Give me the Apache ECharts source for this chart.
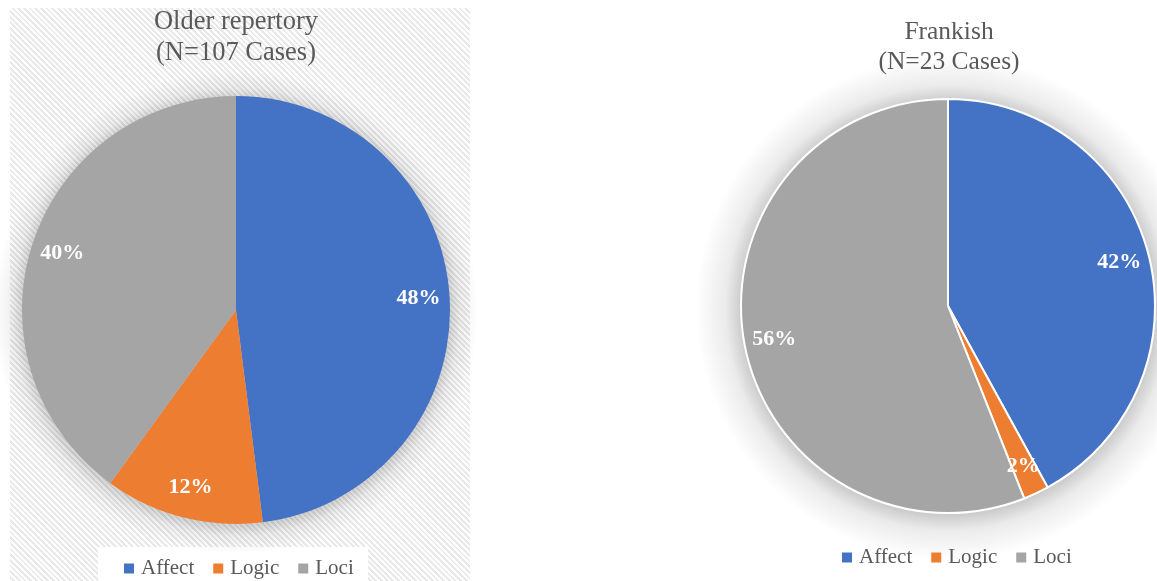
<!DOCTYPE html>
<html>
<head>
<meta charset="utf-8">
<script src="https://cdn.jsdelivr.net/npm/echarts@6/dist/echarts.min.js"></script>
<style>
  html, body { margin: 0; padding: 0; background: #fff; }
  #wrap { position: relative; width: 1157px; height: 581px; overflow: hidden; }
  #hatch { position: absolute; left: 10px; top: 8px; width: 460px; height: 573px;
    background: repeating-linear-gradient(45deg, #ffffff 0px, #ffffff 2px, #e9e9e9 2px, #e9e9e9 4px); }
  #legbox { position: absolute; left: 98px; top: 547px; width: 270px; height: 34px; background: #fff; }
  #chart { position: absolute; left: 0; top: 0; width: 1157px; height: 581px; }
</style>
</head>
<body>
<div id="wrap">
  <div id="hatch"></div>
  <div id="legbox"></div>
  <div id="chart"></div>
</div>
<script>
const categories = ['Affect', 'Logic', 'Loci'];
const colors = ['#4472C4', '#ED7D31', '#A5A5A5'];
const olderValues = [48, 12, 40];
const frankishValues = [42, 2, 56];
const olderTitle = ['Older repertory', '(N=107 Cases)'];
const frankishTitle = ['Frankish', '(N=23 Cases)'];

const serif = '"Liberation Serif", "Times New Roman", serif';

function makeData(values) {
  return categories.map((c, i) => ({ name: c, value: values[i], itemStyle: { color: colors[i] } }));
}

function pieGroup(center, R, values, border) {
  return [
    {
      type: 'pie', center: center, radius: R, startAngle: 90, clockwise: true,
      label: { show: false }, labelLine: { show: false }, silent: true,
      itemStyle: { borderColor: '#ffffff', borderWidth: border },
      emphasis: { disabled: true },
      data: makeData(values)
    },
    {
      type: 'pie', center: center, radius: [R * 0.68, R], startAngle: 90, clockwise: true,
      silent: true, labelLine: { show: false },
      itemStyle: { color: 'rgba(0,0,0,0)' },
      emphasis: { disabled: true },
      label: {
        show: true, position: 'inside', formatter: '{c}%',
        color: '#ffffff', fontFamily: serif, fontWeight: 'bold', fontSize: 22
      },
      data: categories.map((c, i) => ({ name: c, value: values[i] }))
    }
  ];
}

const chart = echarts.init(document.getElementById('chart'), null, { renderer: 'canvas' });

const legendCommon = {
  data: categories, icon: 'rect', itemWidth: 10, itemHeight: 10, itemGap: 19,
  selectedMode: false, orient: 'horizontal',
  textStyle: { fontFamily: serif, fontSize: 21, color: '#595959', padding: [0, 0, 0, 2] }
};

function titleText(x, y, text, size) {
  return { type: 'text', x: x, y: y, silent: true,
    style: { text: text, fontFamily: serif, fontSize: size, fill: '#595959', textAlign: 'center', textVerticalAlign: 'middle' } };
}

function halo(cx, cy, R, spread, alpha) {
  const outer = R + spread;
  const k = R / outer;
  return { type: 'circle', silent: true, z: -10, shape: { cx: cx, cy: cy, r: outer },
    style: { fill: { type: 'radial', x: 0.5, y: 0.5, r: 0.5, colorStops: [
      { offset: 0, color: 'rgba(0,0,0,' + alpha + ')' },
      { offset: k, color: 'rgba(0,0,0,' + alpha + ')' },
      { offset: k + (1 - k) * 0.35, color: 'rgba(0,0,0,' + (alpha * 0.4) + ')' },
      { offset: 1, color: 'rgba(0,0,0,0)' }
    ] } } };
}

chart.setOption({
  animation: false,
  backgroundColor: 'transparent',
  color: colors,
  graphic: [
    halo(236, 312, 214, 28, 0.16),
    halo(948, 308, 207, 45, 0.2),
    titleText(236, 22, olderTitle[0], 26.5),
    titleText(236, 53, olderTitle[1], 26.5),
    titleText(949, 32, frankishTitle[0], 25.5),
    titleText(949, 62, frankishTitle[1], 25.5)
  ],
  legend: [
    Object.assign({}, legendCommon, { left: 119, top: 553 }),
    Object.assign({}, legendCommon, { left: 837, top: 542 })
  ],
  series: [].concat(
    pieGroup([236, 310], 214, olderValues, 0),
    pieGroup([948, 306], 207, frankishValues, 2)
  )
});
</script>
</body>
</html>
